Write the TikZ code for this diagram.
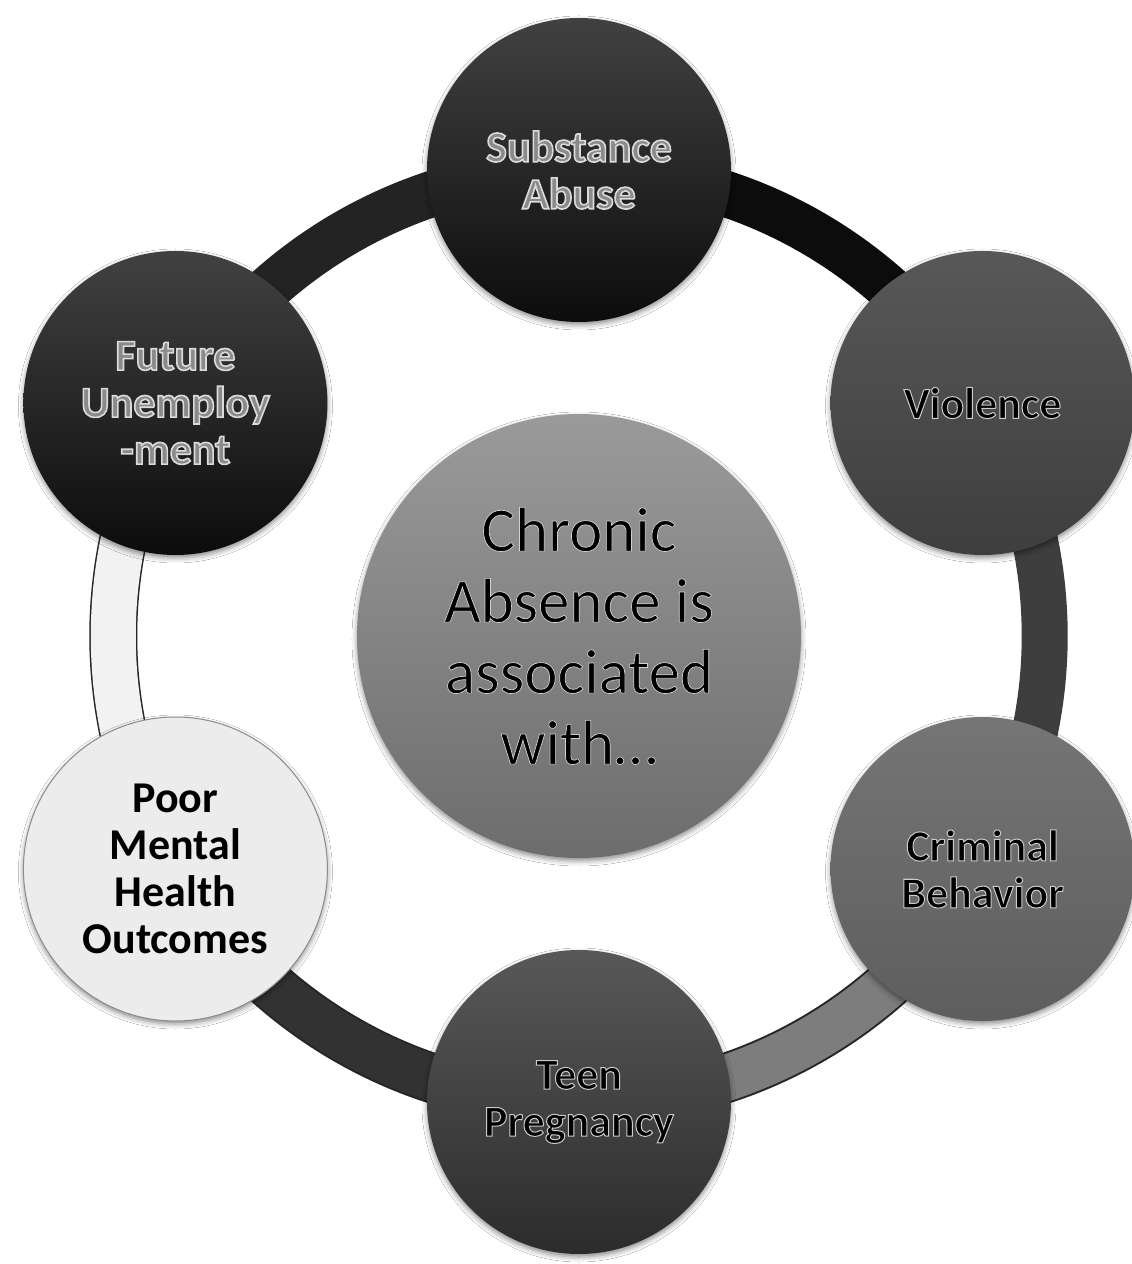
\documentclass[tikz,border=0pt]{standalone}
\usepackage{fontspec}
\setmainfont{Carlito}
\usetikzlibrary{backgrounds,shadows.blur}

% fills
\definecolor{inkblack}{HTML}{0C0C0C}
\definecolor{charcoal}{HTML}{2C2C2C}
\definecolor{slate}{HTML}{3E3E3E}
\definecolor{midgray}{HTML}{6E6E6E}
\definecolor{centergray}{HTML}{888888}
\definecolor{paper}{HTML}{ECECEC}
\definecolor{embossfill}{HTML}{8A8A8A}

% lettering drawn as filled glyphs with a stroked rim:
% #1 fill colour, #2 rim grey level (0..1), #3 rim width in bp, #4 text
\newcommand{\rimtext}[4]{{\color{#1}\special{pdf:literal direct 2 Tr #3 w #2 G}#4\special{pdf:literal direct 0 Tr 0 G}}}
\newcommand{\emboss}[1]{\rimtext{embossfill}{0.86}{1.6}{#1}}
\newcommand{\glowtext}[1]{\rimtext{black}{0.80}{1.0}{#1}}
\newcommand{\softglow}[1]{\rimtext{black}{0.82}{0.7}{#1}}

\begin{document}
\begin{tikzpicture}[x=1pt,y=1pt,
  bubble/.style={circle, minimum size=304pt, inner sep=0pt, align=center,
    font=\bfseries\fontsize{44}{47}\selectfont,
    blur shadow={shadow xshift=0pt, shadow yshift=-3pt,
      shadow blur radius=5pt, shadow opacity=45}},
  hub/.style={circle, minimum size=444pt, inner sep=0pt, align=center,
    font=\fontsize{63}{71}\selectfont,
    top color=centergray!85!white, bottom color=centergray!80!black,
    blur shadow={shadow xshift=0pt, shadow yshift=-3pt,
      shadow blur radius=5pt, shadow opacity=45}},
  ringpart/.style={line width=46pt, line cap=butt, looseness=0.912},
  rimline/.style={line width=50pt, line cap=butt, looseness=0.912, color=black!85},
]
\useasboundingbox (-579,-628) rectangle (553,636);

% outer ring of consequences
\node[bubble, top color=charcoal!90, bottom color=inkblack] (sub) at (90:466)
  {\emboss{Substance}\\\emboss{Abuse}};
\node[bubble, top color=midgray!80!black, bottom color=slate] (vio) at (30:466)
  {\glowtext{Violence}};
\node[bubble, top color=midgray!95!white, bottom color=midgray!85!black] (cri) at (-30:466)
  {\glowtext{Criminal}\\\glowtext{Behavior}};
\node[bubble, top color=midgray!80!black, bottom color=charcoal] (teen) at (-90:466)
  {\glowtext{Teen}\\\glowtext{Pregnancy}};
\node[bubble, fill=paper, draw=black!45, line width=1pt] (poor) at (-150:466)
  {Poor\\Mental\\Health\\Outcomes};
\node[bubble, top color=charcoal!90, bottom color=inkblack] (fut) at (150:466)
  {\emboss{Future}\\\emboss{Unemploy}\\\emboss{-ment}};

% centre
\node[hub] (hub) at (0,0)
  {\softglow{Chronic}\\\softglow{Absence is}\\\softglow{associated}\\\softglow{with…}};

% ring segments joining neighbouring bubbles, beneath everything
\begin{scope}[on background layer]
  \fill[white] (-579,-628) rectangle (553,636);
  \draw[ringpart, color=charcoal] (fut.center) to[out=240, in=120] (poor.center);
  \draw[rimline] (poor.center) to[out=-60, in=180] (teen.center);
  \draw[ringpart, color=slate!80!black] (poor.center) to[out=-60, in=180] (teen.center);
  \draw[rimline] (teen.center) to[out=0, in=-120] (cri.center);
  \draw[ringpart, color=midgray!90!white] (teen.center) to[out=0, in=-120] (cri.center);
  \draw[ringpart, color=slate] (cri.center) to[out=60, in=-60] (vio.center);
  \draw[ringpart, color=inkblack] (vio.center) to[out=120, in=0] (sub.center);
  \draw[ringpart, color=charcoal!80!black] (sub.center) to[out=180, in=60] (fut.center);
  \draw[rimline, line width=48pt] (fut.center) to[out=240, in=120] (poor.center);
  \draw[ringpart, line width=45pt, color=paper!70!white] (fut.center) to[out=240, in=120] (poor.center);
\end{scope}
\end{tikzpicture}
\end{document}
